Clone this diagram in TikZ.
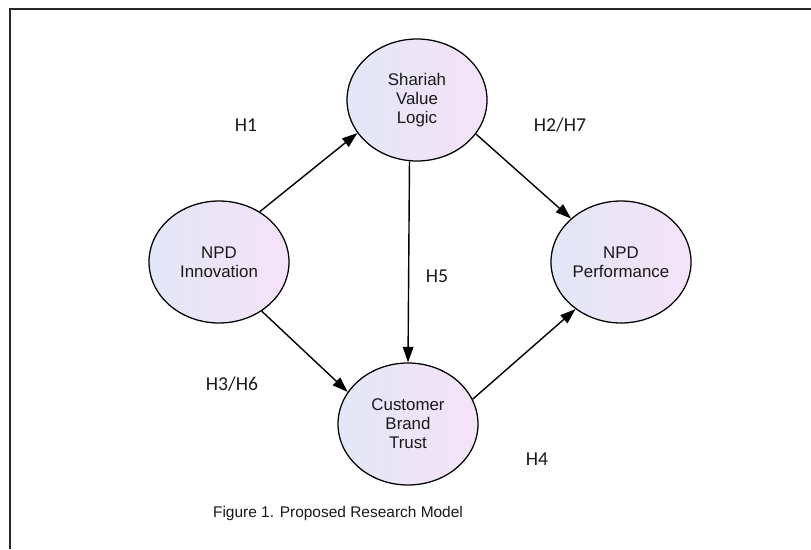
\documentclass[tikz,border=0pt]{standalone}
\usepackage{fontspec}
\setmainfont{Liberation Sans}
\newfontfamily\hfont{Carlito}
\usetikzlibrary{positioning, arrows.meta, shapes, shapes.geometric, shadings}
\definecolor{framegray}{RGB}{40,40,40}
\definecolor{leftblue}{RGB}{226,231,247}
\definecolor{rightpink}{RGB}{245,226,248}
\definecolor{inktext}{RGB}{25,25,25}

\tikzset{
  construct/.style={ellipse, draw=black, line width=0.9pt, left color=leftblue, right color=rightpink,
    minimum width=3.5cm, minimum height=3.05cm, inner sep=0pt, align=center,
    font=\fontsize{12}{13.5}\selectfont, text=inktext},
  hypo/.style={font=\hfont\fontsize{14}{16}\selectfont, text=inktext},
  path/.style={-{Triangle[length=11pt,width=7.5pt]}, line width=1pt, black}
}

\begin{document}
\begin{tikzpicture}[every node/.style={font=\small}]
 \useasboundingbox (0,0) rectangle (20.275,13.725);
 \draw[framegray, line width=1.4pt] (0.25,0) -- (0.25,13.5) -- (20.275,13.5);
 \node[construct] (svl) at (10.425,11.225) {Shariah\\Value\\Logic};
 \node[construct] (inno) at (5.475,7.175) {NPD\\Innovation};
 \node[construct] (perf) at (15.525,7.175) {NPD\\Performance};
 \node[construct] (cbt) at (10.2,3.125) {Customer\\Brand\\Trust};
 \draw[path] (inno.51) -- (svl.209);
 \draw[path] (svl.-30) -- (perf.139);
 \draw[path] (svl.-97) -- (cbt.north);
 \draw[path] (inno.-49) -- (cbt.152);
 \draw[path] (cbt.21) -- (perf.-134);
 \node[hypo] (h1) at (6.15,10.6) {H1};
 \node[hypo] (h27) at (14.0,10.6) {H2/H7};
 \node[hypo] (h5) at (10.925,6.82) {H5};
 \node[hypo] (h36) at (5.8,4.12) {H3/H6};
 \node[hypo] (h4) at (13.425,2.25) {H4};
 \node[font=\fontsize{11}{13}\selectfont, text=inktext] (caption) at (8.45,0.9) {Figure 1. Proposed Research Model};
\end{tikzpicture}
\end{document}
